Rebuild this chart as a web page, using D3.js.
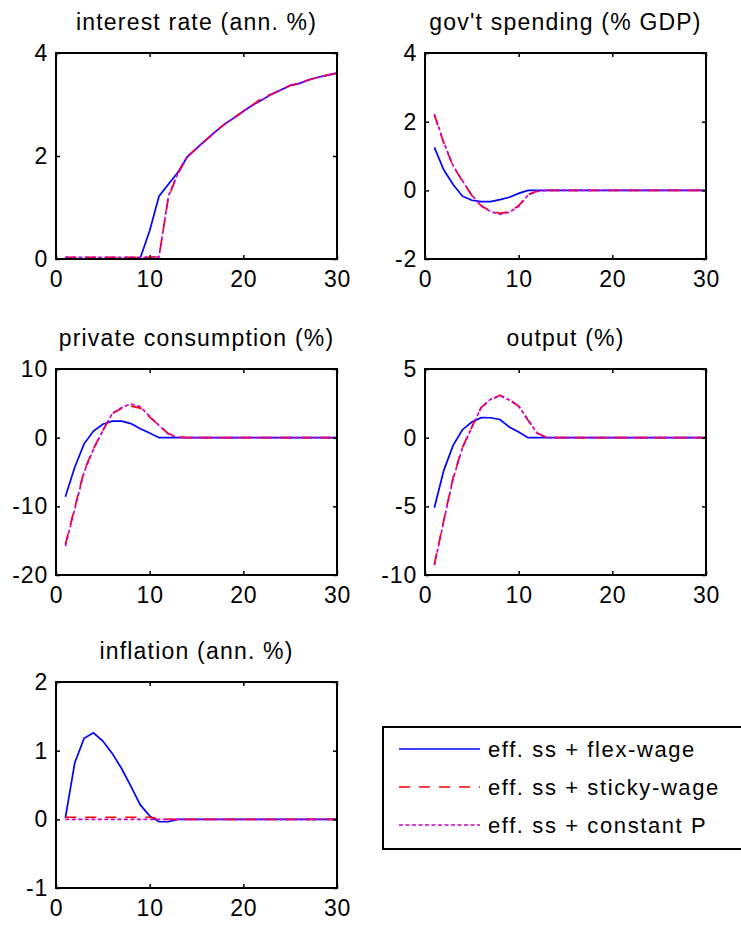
<!DOCTYPE html>
<html lang="en">
<head>
    <meta charset="UTF-8">
    <title>Impulse responses</title>
    <script src="https://d3js.org/d3.v7.min.js"></script>
    <style>
        body { margin: 0; background: #fff; }
        text { font-family: "Liberation Sans", Arial, sans-serif; fill: #000; }
        .tick text { font-size: 23px; letter-spacing: 0.8px; }
        .title { font-size: 23px; letter-spacing: 1.2px; }
        .legend text { font-size: 22px; letter-spacing: 1.6px; }
    </style>
</head>
<body>
<div id="my_dataviz"></div>
<script>

    // quarters on the x axis
    var periods = [1,2,3,4,5,6,7,8,9,10,11,12,13,14,15,16,17,18,19,20,21,22,23,24,25,26,27,28,29,30];
    var xTicks = [0, 10, 20, 30];

    // panel titles and y ticks
    var titles = ["interest rate (ann. %)", "gov't spending (% GDP)", "private consumption (%)", "output (%)", "inflation (ann. %)"];
    var yTicks = [[0, 2, 4], [-2, 0, 2, 4], [-20, -10, 0, 10], [-10, -5, 0, 5], [-1, 0, 1, 2]];

    var seriesNames = ["eff. ss + flex-wage", "eff. ss + sticky-wage", "eff. ss + constant P"];

    // interest rate
    var rateFlex   = [0,0,0,0,0,0,0,0,0.02,0.55,1.22,1.45,1.68,1.98,2.15,2.31,2.47,2.62,2.74,2.87,2.99,3.09,3.2,3.28,3.37,3.41,3.48,3.53,3.57,3.61];
    var rateSticky = [0.03,0.03,0.03,0.03,0.03,0.03,0.03,0.03,0.03,0.03,0.05,1.2,1.65,1.98,2.15,2.31,2.47,2.62,2.74,2.87,2.99,3.13,3.2,3.28,3.37,3.41,3.48,3.53,3.57,3.61];
    var rateConstP = [0.03,0.03,0.03,0.03,0.03,0.03,0.03,0.03,0.03,0.03,0.04,1.22,1.66,1.98,2.15,2.31,2.47,2.62,2.74,2.87,2.99,3.09,3.2,3.28,3.37,3.41,3.48,3.53,3.57,3.61];

    // government spending
    var govFlex   = [1.25,0.6,0.17,-0.17,-0.29,-0.33,-0.33,-0.27,-0.2,-0.09,0,0,0,0,0,0,0,0,0,0,0,0,0,0,0,0,0,0,0,0];
    var govSticky = [2.2,1.38,0.7,0.27,-0.15,-0.45,-0.6,-0.67,-0.62,-0.45,-0.12,-0.02,0,0,0,0,0,0,0,0,0,0,0,0,0,0,0,0,0,0];
    var govConstP = [2.22,1.4,0.72,0.28,-0.14,-0.45,-0.62,-0.7,-0.64,-0.47,-0.14,-0.03,0,0,0,0,0,0,0,0,0,0,0,0,0,0,0,0,0,0];

    // private consumption
    var consFlex   = [-8.6,-4.3,-0.9,0.97,1.95,2.4,2.4,2.05,1.3,0.67,0,0,0,0,0,0,0,0,0,0,0,0,0,0,0,0,0,0,0,0];
    var consSticky = [-15.5,-10.2,-4.8,-1.6,1.07,3.5,4.25,4.6,4.3,3.0,1.8,0.6,0.1,0,0,0,0,0,0,0,0,0,0,0,0,0,0,0,0,0];
    var consConstP = [-15.8,-10.4,-5.0,-1.7,1.0,3.5,4.4,4.9,4.5,3.1,1.8,0.5,0.05,0,0,0,0,0,0,0,0,0,0,0,0,0,0,0,0,0];

    // output
    var outFlex   = [-5.1,-2.4,-0.56,0.58,1.14,1.46,1.45,1.32,0.78,0.41,0,0,0,0,0,0,0,0,0,0,0,0,0,0,0,0,0,0,0,0];
    var outSticky = [-9.2,-6.05,-2.9,-0.7,0.78,2.2,2.73,3.1,2.78,2.3,1.27,0.34,0,0,0,0,0,0,0,0,0,0,0,0,0,0,0,0,0,0];
    var outConstP = [-9.3,-6.1,-3.0,-0.75,0.75,2.2,2.8,3.05,2.75,2.3,1.3,0.3,0,0,0,0,0,0,0,0,0,0,0,0,0,0,0,0,0,0];

    // inflation
    var inflFlex   = [0.02,0.82,1.18,1.26,1.14,0.96,0.74,0.48,0.21,0.05,-0.035,-0.035,0,0,0,0,0,0,0,0,0,0,0,0,0,0,0,0,0,0];
    var inflSticky = [0.03,0.03,0.03,0.03,0.03,0.03,0.03,0.03,0.03,0.03,0.01,0,0,0,0,0,0,0,0,0,0,0,0,0,0,0,0,0,0,0];
    var inflConstP = [0,0,0,0,0,0,0,0,0,0,0,0,0,0,0,0,0,0,0,0,0,0,0,0,0,0,0,0,0,0];

    var panelData = [
        [rateFlex, rateSticky, rateConstP],
        [govFlex, govSticky, govConstP],
        [consFlex, consSticky, consConstP],
        [outFlex, outSticky, outConstP],
        [inflFlex, inflSticky, inflConstP]
    ];

    // line styles: flex solid blue, sticky dashed red, constant P dotted magenta
    var styles = [
        {color: "#0000ff", dash: null, width: 1.7},
        {color: "#ff0000", dash: "11,9", width: 1.7},
        {color: "#c800c8", dash: "4,2.5", width: 1.7}
    ];

    var W = 741, H = 925;
    var pw = 281, ph = 206;
    var lefts = [56, 425];
    var tops = [53, 369, 682];

    // plain hyphen minus like the original
    var fmt = function(d) { return String(d); };

    var svg = d3.select("#my_dataviz")
        .append("svg")
        .attr("width", W)
        .attr("height", H);

    panelData.forEach(function(series, i) {
        var px = lefts[i % 2], py = tops[Math.floor(i / 2)];
        var ticks = yTicks[i];

        var x = d3.scaleLinear().domain([0, 30]).range([0, pw]);
        var y = d3.scaleLinear().domain([ticks[0], ticks[ticks.length - 1]]).range([ph, 0]);

        var g = svg.append("g").attr("transform", "translate(" + px + "," + py + ")");

        // clip so lines stay in the box
        var clipId = "clip" + i;
        g.append("clipPath").attr("id", clipId)
            .append("rect").attr("width", pw).attr("height", ph);

        var line = d3.line()
            .x(function(d, j) { return x(periods[j]); })
            .y(function(d) { return y(d); });

        series.forEach(function(vals, k) {
            g.append("path")
                .datum(vals)
                .attr("clip-path", "url(#" + clipId + ")")
                .attr("fill", "none")
                .attr("stroke", styles[k].color)
                .attr("stroke-width", styles[k].width)
                .attr("stroke-dasharray", styles[k].dash)
                .attr("d", line);
        });

        // bottom + top axes (ticks inward)
        var xb = g.append("g").attr("transform", "translate(0," + ph + ")")
            .call(d3.axisBottom(x).tickValues(xTicks).tickFormat(fmt).tickSizeInner(-4).tickSizeOuter(0).tickPadding(12));
        var xt = g.append("g")
            .call(d3.axisTop(x).tickValues(xTicks).tickSizeInner(-4).tickSizeOuter(0).tickFormat(""));
        var yl = g.append("g")
            .call(d3.axisLeft(y).tickValues(ticks).tickFormat(fmt).tickSizeInner(-4).tickSizeOuter(0).tickPadding(8));
        var yr = g.append("g").attr("transform", "translate(" + pw + ",0)")
            .call(d3.axisRight(y).tickValues(ticks).tickSizeInner(-4).tickSizeOuter(0).tickFormat(""));

        [xb, xt, yl, yr].forEach(function(a) {
            a.select(".domain").remove();
            a.selectAll("line").attr("stroke", "#000").attr("stroke-width", 1.5);
            a.selectAll("text").attr("fill", "#000");
        });
        xb.selectAll("text").attr("dy", "0.71em");

        // box
        g.append("rect")
            .attr("width", pw).attr("height", ph)
            .attr("fill", "none").attr("stroke", "#000").attr("stroke-width", 2);

        // title
        g.append("text")
            .attr("class", "title")
            .attr("x", pw / 2).attr("y", -23)
            .attr("text-anchor", "middle")
            .text(titles[i]);
    });

    // legend
    var lg = svg.append("g").attr("class", "legend").attr("transform", "translate(383,727)");
    lg.append("rect")
        .attr("width", 380).attr("height", 122)
        .attr("fill", "#fff").attr("stroke", "#000").attr("stroke-width", 2);

    seriesNames.forEach(function(name, k) {
        var ly = 22 + k * 38;
        lg.append("line")
            .attr("x1", 16).attr("x2", 97)
            .attr("y1", ly).attr("y2", ly)
            .attr("stroke", styles[k].color)
            .attr("stroke-width", styles[k].width)
            .attr("stroke-dasharray", styles[k].dash);
        lg.append("text")
            .attr("x", 105).attr("y", ly)
            .attr("dy", "0.35em")
            .text(name);
    });

</script>
</body>
</html>
